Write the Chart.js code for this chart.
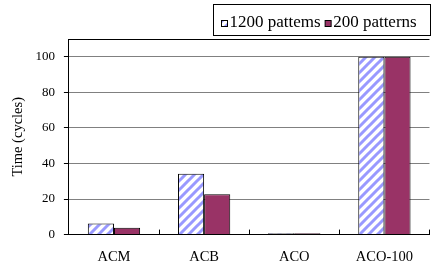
<!DOCTYPE html>
<html>
<head>
<meta charset="utf-8">
<script src="https://cdn.jsdelivr.net/npm/chart.js@4"></script>
<style>
html, body { margin: 0; padding: 0; background: #fff; }
</style>
</head>
<body>
<canvas id="chart" width="432" height="265"></canvas>
<script>
var categories = ["ACM", "ACB", "ACO", "ACO-100"];
var seriesNames = ["1200 pattems", "200 patterns"];
var values1200 = [6.2, 34.2, 0.8, 100];
var values200 = [3.9, 22.7, 0.8, 100];
var yTicks = [0, 20, 40, 60, 80, 100];
var yTitle = "Time (cycles)";

var serif = '"Liberation Serif", "Times New Roman", serif';

// blue diagonal hatch like the old excel fill
function stripes() {
    var c = document.createElement('canvas');
    c.width = 9; c.height = 9;
    var g = c.getContext('2d');
    g.fillStyle = '#fff';
    g.fillRect(0, 0, 9, 9);
    g.strokeStyle = '#9999ff';
    g.lineWidth = 3;
    g.beginPath();
    g.moveTo(-1, 10); g.lineTo(10, -1);
    g.moveTo(-5.5, 5.5); g.lineTo(5.5, -5.5);
    g.moveTo(3.5, 14.5); g.lineTo(14.5, 3.5);
    g.stroke();
    return g.createPattern(c, 'repeat');
}

var ctx = document.getElementById('chart').getContext('2d');

var frame = {
    id: 'frame',
    afterDraw: function(chart) {
        var a = chart.chartArea, c = chart.ctx;
        c.save();
        c.strokeStyle = '#000';
        c.lineWidth = 1;
        c.beginPath();
        c.moveTo(a.left, Math.round(a.top) + 0.5);
        c.lineTo(a.right, Math.round(a.top) + 0.5);
        c.stroke();

        // legend box
        c.font = '17px ' + serif;
        c.fillStyle = '#fff';
        c.fillRect(213.5, 4.5, 217, 31);
        c.strokeRect(213.5, 4.5, 217, 31);
        var x = 221;
        chart.data.datasets.forEach(function(ds) {
            c.fillStyle = ds.backgroundColor;
            c.fillRect(x + 0.5, 20.5, 6, 6);
            c.strokeStyle = '#000';
            c.strokeRect(x + 0.5, 20.5, 6, 6);
            c.fillStyle = '#000';
            c.textBaseline = 'alphabetic';
            c.fillText(ds.label, x + 8.5, 27);
            x += 8.5 + c.measureText(ds.label).width + 4;
        });
        c.restore();
    }
};

new Chart(ctx, {
    type: 'bar',
    data: {
        labels: categories,
        datasets: [{
            label: seriesNames[0],
            data: values1200,
            backgroundColor: stripes(),
            borderColor: '#000',
            borderWidth: 1
        }, {
            label: seriesNames[1],
            data: values200,
            backgroundColor: '#993366',
            borderColor: '#000',
            borderWidth: 1
        }]
    },
    options: {
        responsive: false,
        animation: false,
        categoryPercentage: 0.58,
        barPercentage: 1,
        layout: { padding: { top: 39, left: 9, right: 0, bottom: -20 } },
        plugins: {
            legend: { display: false },
            tooltip: { enabled: false }
        },
        scales: {
            x: {
                grid: { display: true, drawOnChartArea: false, tickLength: -5, tickColor: '#000', offset: true },
                border: { color: '#000', width: 1 },
                ticks: { font: { family: serif, size: 14.5 }, color: '#000', padding: 19 }
            },
            y: {
                min: 0,
                max: 110,
                afterBuildTicks: function(s) {
                    s.ticks = yTicks.map(function(v) { return { value: v }; });
                },
                grid: {
                    color: function(c) { return c.tick && c.tick.value === 0 ? '#000' : '#808080'; },
                    tickColor: '#000',
                    tickLength: 5
                },
                border: { color: '#000', width: 1 },
                ticks: { font: { family: serif, size: 13 }, color: '#000', padding: 9 },
                title: {
                    display: true,
                    text: yTitle,
                    font: { family: serif, size: 14.5 },
                    color: '#000',
                    padding: { top: 0, bottom: 0 }
                }
            }
        }
    },
    plugins: [frame]
});
</script>
</body>
</html>
